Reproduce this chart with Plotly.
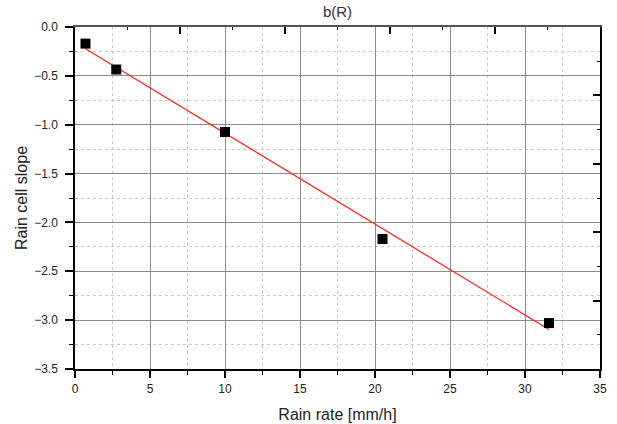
import numpy as np
import plotly.graph_objects as go

# Data
rain_rate = [0.7, 2.75, 10.0, 20.5, 31.6]
cell_slope = [-0.17, -0.435, -1.075, -2.17, -3.03]

x_tick_vals = [0, 5, 10, 15, 20, 25, 30, 35]
y_tick_vals = [0.0, -0.5, -1.0, -1.5, -2.0, -2.5, -3.0, -3.5]

# Linear fit (red line)
coef = np.polyfit(rain_rate, cell_slope, 1)
fit_x = [min(rain_rate), max(rain_rate)]
fit_y = list(np.polyval(coef, fit_x))

font_fam = "Liberation Sans, Arial, sans-serif"
txt = "#222222"

fig = go.Figure()
fig.add_trace(go.Scatter(x=fit_x, y=fit_y, mode="lines",
                         line=dict(color="#ff2020", width=1.2),
                         showlegend=False, hoverinfo="skip"))
fig.add_trace(go.Scatter(x=rain_rate, y=cell_slope, mode="markers",
                         marker=dict(symbol="square", size=10, color="black",
                                     line=dict(width=0)),
                         showlegend=False))
# helper trace to activate top/right axes
fig.add_trace(go.Scatter(x=[None], y=[None], xaxis="x2", yaxis="y2",
                         showlegend=False, hoverinfo="skip"))

fig.update_layout(
    width=617, height=424,
    paper_bgcolor="white", plot_bgcolor="white",
    margin=dict(l=75, r=17, t=27, b=55),
    font=dict(family=font_fam, color=txt),
    title=dict(text="b(R)", x=0.547, xanchor="center", y=0.972, yanchor="middle",
               font=dict(size=15, color="#333333")),
    xaxis=dict(
        range=[0, 35], tickvals=x_tick_vals, ticks="outside", ticklen=7,
        tickwidth=1.5, tickcolor="black", automargin=False,
        showline=True, linecolor="black", linewidth=1.5,
        showgrid=True, gridcolor="#8c8c8c", gridwidth=1.4,
        zeroline=False, ticklabelstandoff=1,
        tickfont=dict(size=12, color=txt),
        minor=dict(dtick=2.5, tick0=0, ticks="outside", ticklen=4,
                   tickcolor="black", tickwidth=1.2,
                   showgrid=True, gridcolor="#c8c8c8", griddash="dot", gridwidth=1),
        title=dict(text="Rain rate [mm/h]", font=dict(size=16, color=txt), standoff=14),
    ),
    yaxis=dict(
        range=[-3.5, 0], tickvals=y_tick_vals, tickformat=".1f",
        ticks="outside", ticklen=8, tickwidth=1.5, tickcolor="black",
        automargin=False,
        showline=True, linecolor="black", linewidth=1.5,
        showgrid=True, gridcolor="#8c8c8c", gridwidth=1.4,
        zeroline=False, ticklabelstandoff=5,
        tickfont=dict(size=12, color=txt),
        minor=dict(dtick=0.25, tick0=0, ticks="outside", ticklen=4,
                   tickcolor="black", tickwidth=1.2,
                   showgrid=True, gridcolor="#c8c8c8", griddash="dot", gridwidth=1),
        title=dict(text="Rain cell slope", font=dict(size=16, color=txt), standoff=3),
    ),
    xaxis2=dict(
        overlaying="x", side="top", range=[0, 35], dtick=7, tick0=0,
        ticks="inside", ticklen=7, tickwidth=1.5, tickcolor="black",
        showticklabels=False, showgrid=False, zeroline=False,
        showline=True, linecolor="#555555", linewidth=1.5,
        minor=dict(dtick=3.5, tick0=0, ticks="inside", ticklen=3,
                   tickcolor="black", tickwidth=1.2, showgrid=False),
    ),
    yaxis2=dict(
        overlaying="y", side="right", range=[-3.5, 0], dtick=0.7, tick0=0,
        ticks="inside", ticklen=7, tickwidth=1.5, tickcolor="black",
        showticklabels=False, showgrid=False, zeroline=False,
        showline=True, linecolor="black", linewidth=1.5,
        minor=dict(dtick=0.35, tick0=0, ticks="inside", ticklen=3,
                   tickcolor="black", tickwidth=1.2, showgrid=False),
    ),
)

fig.write_html("out.html", config={"displayModeBar": False},
               post_script="document.body.style.margin='0';document.body.style.overflow='hidden';")
